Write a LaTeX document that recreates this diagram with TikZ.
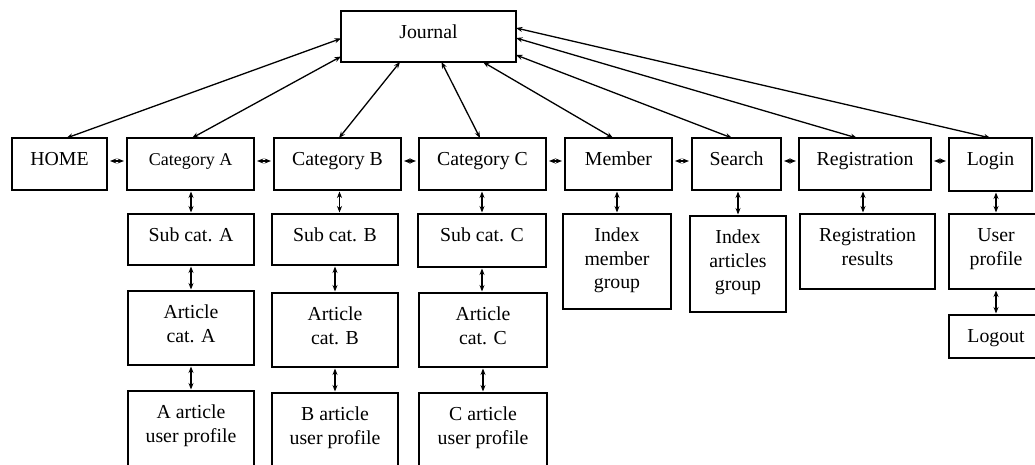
\documentclass[tikz,border=0pt]{standalone}
\usepackage{fontspec}
\setmainfont{Liberation Serif}
\usetikzlibrary{arrows.meta}
\tikzset{
  boxshape/.style={draw, rectangle, line width=1.3pt, inner sep=0pt, outer sep=0pt},
  boxtext/.style={anchor=north, inner sep=0pt, align=center,
    font=\fontsize{19.8}{23.3}\selectfont},
  conn/.style={<->, >={Stealth[length=6.5pt,width=5pt]}, line width=1.3pt},
  link/.style={conn, shorten <=1.5pt, shorten >=1.5pt},
  side/.style={conn, shorten <=3pt, shorten >=3pt},
}
% \pbox[text options]{name}{left}{top}{right}{bottom}{text}
\newcommand\pbox[7][]{%
  \node[boxshape, minimum width={#5-#3}, minimum height={#6-#4}]
    (#2) at ({(#3+#5)/2},{(#4+#6)/2}) {};
  \node[boxtext,#1] (#2-t) at ({(#3+#5)/2},{#4+11.2}) {\strut #7};
}
\begin{document}
\begin{tikzpicture}[x=1pt,y=-1pt]
  \clip (0,0) rectangle (1035,465);
  \fill[white] (0,0) rectangle (1035,465);

  % top level
  \pbox{journal}{341}{11}{516}{62}{Journal}

  % main menu row
  \pbox{home}{12}{138}{107}{190}{HOME}
  \pbox[font=\fontsize{18}{23.3}\selectfont]{catA}{127}{138}{254}{190}{Category A}
  \pbox{catB}{274}{138}{401}{190}{Category B}
  \pbox{catC}{419}{138}{546}{190}{Category C}
  \pbox{member}{565}{138}{672}{190}{Member}
  \pbox{search}{692}{138}{781}{190}{Search}
  \pbox{registration}{799}{138}{931}{190}{Registration}
  \pbox{login}{949}{138}{1032}{191}{Login}

  % category columns
  \pbox{subA}{128}{214}{254}{265}{Sub cat. A}
  \pbox{artA}{128}{291}{254}{365}{Article\\cat. A}
  \pbox{profA}{128}{391}{254}{480}{A article\\user profile}

  \pbox{subB}{272}{214}{398}{265}{Sub cat. B}
  \pbox{artB}{272}{293}{398}{367}{Article\\cat. B}
  \pbox{profB}{272}{393}{398}{480}{B article\\user profile}

  \pbox{subC}{418}{214}{546}{267}{Sub cat. C}
  \pbox{artC}{419}{293}{547}{367}{Article\\cat. C}
  \pbox{profC}{419}{393}{547}{480}{C article\\user profile}

  % remaining columns
  \pbox{idxm}{563}{214}{671}{309}{Index\\member\\group}
  \pbox{idxa}{690}{216}{786}{312}{Index\\articles\\group}
  \pbox{regres}{800}{214}{935}{289}{Registration\\results}
  \pbox{uprof}{949}{214}{1043}{289}{User\\profile}
  \pbox{logout}{949}{315}{1043}{358}{Logout}

  % links from the journal to the menu row
  \draw[conn] ([xshift=7pt]home.north) -- ([yshift=-2pt]journal.west);
  \draw[conn] ([xshift=1.5pt]catA.north) -- ([yshift=-20pt]journal.west);
  \draw[conn] ([xshift=1.5pt]catB.north) -- ([xshift=-28.5pt]journal.south);
  \draw[conn] ([xshift=-2.5pt]catC.north) -- ([xshift=13pt]journal.south);
  \draw[conn] ([xshift=-5.5pt]member.north) -- ([xshift=54.5pt]journal.south);
  \draw[conn] ([xshift=-4.5pt]search.north) -- ([yshift=-18.5pt]journal.east);
  \draw[conn] ([xshift=-8pt]registration.north) -- ([yshift=-1.5pt]journal.east);
  \draw[conn] (login.north) -- ([yshift=8.5pt]journal.east);

  % links along the menu row
  \draw[side] ([yshift=3pt]home.east) -- ([yshift=3pt]home.east -| catA.west);
  \draw[side] ([yshift=3pt]catA.east) -- ([yshift=3pt]catA.east -| catB.west);
  \draw[side] ([yshift=3pt]catB.east) -- ([yshift=3pt]catB.east -| catC.west);
  \draw[side] ([yshift=3pt]catC.east) -- ([yshift=3pt]catC.east -| member.west);
  \draw[side] ([yshift=3pt]member.east) -- ([yshift=3pt]member.east -| search.west);
  \draw[side] ([yshift=3pt]search.east) -- ([yshift=3pt]search.east -| registration.west);
  \draw[side] ([yshift=3pt]registration.east) -- ([yshift=3pt]registration.east -| login.west);

  % links down the columns
  \draw[link] (subA.north |- catA.south) -- (subA.north);
  \draw[link] (subA.south) -- (artA.north);
  \draw[link] (artA.south) -- (profA.north);

  \draw[link] ([xshift=2pt]catB.south) -- ([xshift=2pt]catB.south |- subB.north);
  \draw[link] (subB.south) -- (subB.south |- artB.north);
  \draw[link] (artB.south) -- (profB.north);

  \draw[link] (subC.north |- catC.south) -- (subC.north);
  \draw[link] (subC.south) -- (subC.south |- artC.north);
  \draw[link] (artC.south) -- (profC.north);

  \draw[link] (idxm.north |- member.south) -- (idxm.north);
  \draw[link] (idxa.north |- search.south) -- (idxa.north);
  \draw[link] ([xshift=-2pt]registration.south) -- ([xshift=-2pt]registration.south |- regres.north);
  \draw[link] (uprof.north |- login.south) -- (uprof.north);
  \draw[link] (uprof.south) -- (logout.north);
\end{tikzpicture}
\end{document}
